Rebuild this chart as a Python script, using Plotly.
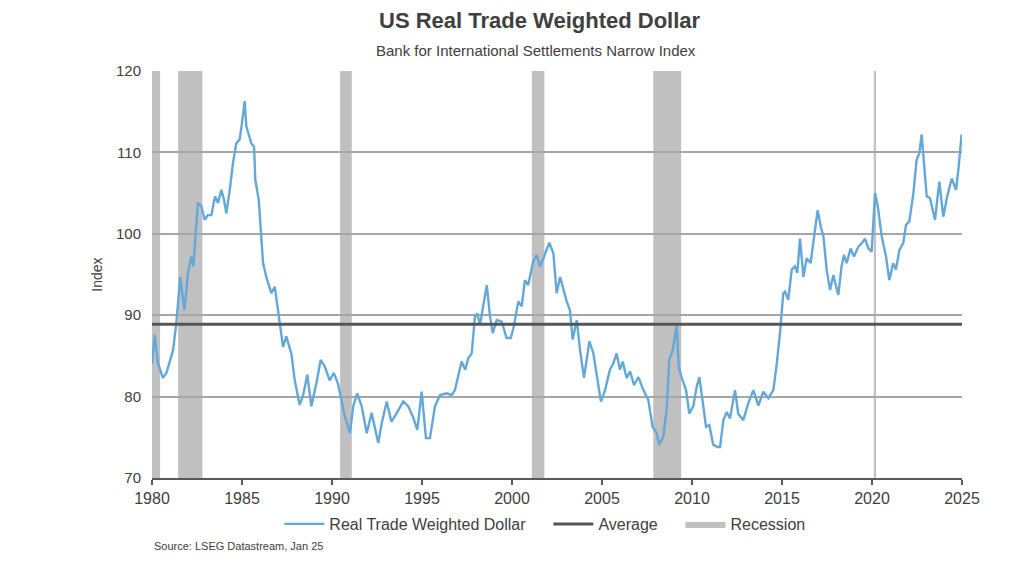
import plotly.graph_objects as go

years = [1980.0, 1980.15, 1980.33, 1980.6, 1980.8, 1981.0, 1981.17, 1981.35, 1981.57, 1981.8,
         1982.0, 1982.18, 1982.3, 1982.55, 1982.74, 1982.93, 1983.1, 1983.3, 1983.5, 1983.67,
         1983.85, 1984.0, 1984.13, 1984.32, 1984.5, 1984.68, 1984.87, 1985.0, 1985.15, 1985.24,
         1985.33, 1985.52, 1985.67, 1985.74, 1985.93, 1986.17, 1986.35, 1986.63, 1986.82, 1987.1,
         1987.28, 1987.46, 1987.74, 1987.93, 1988.2, 1988.38, 1988.63, 1988.85, 1989.13, 1989.37,
         1989.6, 1989.87, 1990.1, 1990.33, 1990.72, 1991.0, 1991.18, 1991.4, 1991.65, 1991.93,
         1992.2, 1992.57, 1992.76, 1993.04, 1993.3, 1993.6, 1993.96, 1994.24, 1994.5, 1994.74,
         1994.98, 1995.22, 1995.44, 1995.72, 1996.0, 1996.37, 1996.65, 1996.83, 1997.0, 1997.2,
         1997.4, 1997.57, 1997.76, 1997.94, 1998.07, 1998.22, 1998.4, 1998.6, 1998.78, 1998.93,
         1999.15, 1999.43, 1999.7, 1999.93, 2000.1, 2000.35, 2000.54, 2000.72, 2000.9, 2001.18,
         2001.37, 2001.56, 2001.78, 2002.07, 2002.3, 2002.48, 2002.67, 2003.04, 2003.22, 2003.37,
         2003.6, 2003.78, 2004.0, 2004.3, 2004.52, 2004.74, 2004.94, 2005.17, 2005.44, 2005.63,
         2005.81, 2006.0, 2006.15, 2006.37, 2006.56, 2006.78, 2007.02, 2007.3, 2007.57, 2007.81,
         2008.04, 2008.18, 2008.41, 2008.59, 2008.74, 2008.93, 2009.15, 2009.26, 2009.43, 2009.67,
         2009.85, 2010.07, 2010.26, 2010.41, 2010.59, 2010.78, 2010.96, 2011.18, 2011.41, 2011.56,
         2011.74, 2011.93, 2012.11, 2012.39, 2012.57, 2012.85, 2013.13, 2013.41, 2013.69, 2013.96,
         2014.24, 2014.52, 2014.7, 2014.89, 2015.07, 2015.17, 2015.35, 2015.54, 2015.72, 2015.85,
         2016.0, 2016.19, 2016.37, 2016.59, 2016.74, 2016.98, 2017.15, 2017.3, 2017.48, 2017.67,
         2017.85, 2018.13, 2018.31, 2018.44, 2018.59, 2018.81, 2019.0, 2019.24, 2019.48, 2019.61,
         2019.8, 2019.98, 2020.17, 2020.32, 2020.54, 2020.78, 2020.96, 2021.18, 2021.33, 2021.52,
         2021.74, 2021.89, 2022.07, 2022.3, 2022.48, 2022.63, 2022.76, 2022.89, 2023.04, 2023.22,
         2023.5, 2023.74, 2023.96, 2024.18, 2024.43, 2024.67, 2024.8, 2024.98]

dollar_index = [84.0, 87.6, 84.1, 82.3, 82.9, 84.3, 85.7, 89.0, 94.7, 90.6,
                95.2, 97.2, 96.0, 103.8, 103.4, 101.7, 102.3, 102.3, 104.6, 103.8,
                105.4, 104.2, 102.5, 105.4, 108.7, 111.1, 111.6, 113.6, 116.3, 113.2,
                112.6, 111.1, 110.7, 106.6, 104.2, 96.4, 94.7, 92.7, 93.5, 89.0,
                86.1, 87.4, 85.3, 82.0, 79.0, 80.0, 82.7, 78.8, 81.6, 84.5,
                83.7, 82.0, 82.9, 81.6, 77.5, 75.5, 78.8, 80.4, 78.8, 75.5,
                78.0, 74.3, 76.7, 79.4, 76.9, 78.0, 79.4, 78.8, 77.5, 75.9,
                80.6, 74.9, 74.9, 78.8, 80.2, 80.4, 80.2, 80.8, 82.4, 84.3,
                83.3, 84.7, 85.3, 89.8, 90.2, 88.8, 91.1, 93.7, 89.8, 87.8,
                89.4, 89.2, 87.2, 87.2, 88.6, 91.7, 91.1, 94.3, 93.7, 96.6,
                97.4, 96.0, 97.2, 98.9, 97.6, 92.7, 94.7, 91.7, 90.6, 87.0,
                89.4, 85.7, 82.3, 86.8, 85.3, 82.0, 79.4, 80.8, 83.3, 84.1,
                85.3, 83.3, 84.3, 82.3, 83.1, 81.4, 82.4, 80.8, 79.6, 76.3,
                75.5, 74.1, 75.1, 78.4, 84.5, 85.7, 88.8, 83.7, 82.3, 80.8,
                77.9, 78.8, 81.2, 82.4, 79.6, 76.3, 76.5, 74.1, 73.8, 73.8,
                77.1, 78.1, 77.3, 80.8, 77.9, 77.1, 79.2, 80.8, 78.9, 80.6,
                79.8, 80.8, 83.9, 87.8, 92.7, 92.9, 91.9, 95.6, 96.0, 95.2,
                99.4, 94.7, 97.0, 96.4, 98.9, 102.9, 100.9, 99.7, 95.6, 93.1,
                94.9, 92.5, 96.0, 97.4, 96.4, 98.2, 97.2, 98.4, 99.0, 99.4,
                98.2, 97.8, 105.0, 103.4, 99.7, 97.2, 94.3, 96.4, 95.6, 98.0,
                98.9, 101.1, 101.5, 105.0, 109.1, 109.9, 112.2, 108.7, 104.6, 104.4,
                101.7, 106.4, 102.1, 104.6, 106.8, 105.4, 107.9, 112.2]

average_value = 88.9

recession_start = [1980.0, 1981.45, 1990.45, 2001.1, 2007.85, 2020.1]
recession_end = [1980.45, 1982.8, 1991.1, 2001.8, 2009.4, 2020.22]

x_ticks = [1980, 1985, 1990, 1995, 2000, 2005, 2010, 2015, 2020, 2025]
y_ticks = [70, 80, 90, 100, 110, 120]

FONT = "Liberation Sans"
TXT = "#404040"
LINE_BLUE = "#64a8d8"
REC_GRAY = "#c0c0c0"
GAP = "\u00a0" * 4

fig = go.Figure()

for s, e in zip(recession_start, recession_end):
    fig.add_shape(type="rect", xref="x", yref="paper", x0=s, x1=e, y0=0, y1=1,
                  fillcolor=REC_GRAY, line_width=0, layer="below")

fig.add_trace(go.Scatter(x=years, y=dollar_index, mode="lines",
                         name="Real Trade Weighted Dollar" + GAP,
                         line=dict(color=LINE_BLUE, width=2.4)))
fig.add_trace(go.Scatter(x=[x_ticks[0], x_ticks[-1]], y=[average_value, average_value],
                         mode="lines", name="Average" + GAP,
                         line=dict(color="#555555", width=3)))
fig.add_trace(go.Scatter(x=[None], y=[None], mode="lines", name="Recession",
                         fill="toself", fillcolor=REC_GRAY,
                         line=dict(color=REC_GRAY, width=0)))

fig.update_layout(
    width=1000, height=560,
    margin=dict(l=144, r=46, t=63, b=90),
    paper_bgcolor="white", plot_bgcolor="rgba(0,0,0,0)",
    font=dict(family=FONT, color=TXT, size=15),
    showlegend=True,
    legend=dict(orientation="h", x=0.485, xanchor="center", y=-0.113, yanchor="middle",
                font=dict(size=16, color=TXT), itemwidth=40, bgcolor="rgba(0,0,0,0)"),
    annotations=[
        dict(text="<b>US Real Trade Weighted Dollar</b>", xref="paper", yref="paper",
             x=0.479, y=1.0, yshift=51, showarrow=False, font=dict(size=22, color=TXT),
             xanchor="center", yanchor="middle"),
        dict(text="Bank for International Settlements Narrow Index", xref="paper", yref="paper",
             x=0.474, y=1.0, yshift=21, showarrow=False, font=dict(size=15, color=TXT),
             xanchor="center", yanchor="middle"),
        dict(text="Source: LSEG Datastream, Jan 25", xref="paper", yref="paper",
             x=0.0, y=-0.167, showarrow=False, font=dict(size=11, color=TXT),
             xanchor="left", yanchor="middle"),
    ],
)

fig.update_xaxes(range=[1980, 2025], tickvals=x_ticks, ticktext=[str(t) for t in x_ticks],
                 showgrid=False, zeroline=False, showline=True, linecolor="#595959",
                 linewidth=2, ticks="outside", ticklen=5, tickwidth=1.5, tickcolor="#595959",
                 tickfont=dict(size=16, color=TXT))
fig.update_yaxes(range=[70, 120], tickvals=y_ticks, showgrid=True, gridcolor="#a6a6a6",
                 gridwidth=1.5, zeroline=False, showline=False,
                 title=dict(text="Index", font=dict(size=14, color=TXT), standoff=10),
                 tickfont=dict(size=15, color=TXT), ticks="", ticklabelstandoff=10)

fig.write_html("out.html")
